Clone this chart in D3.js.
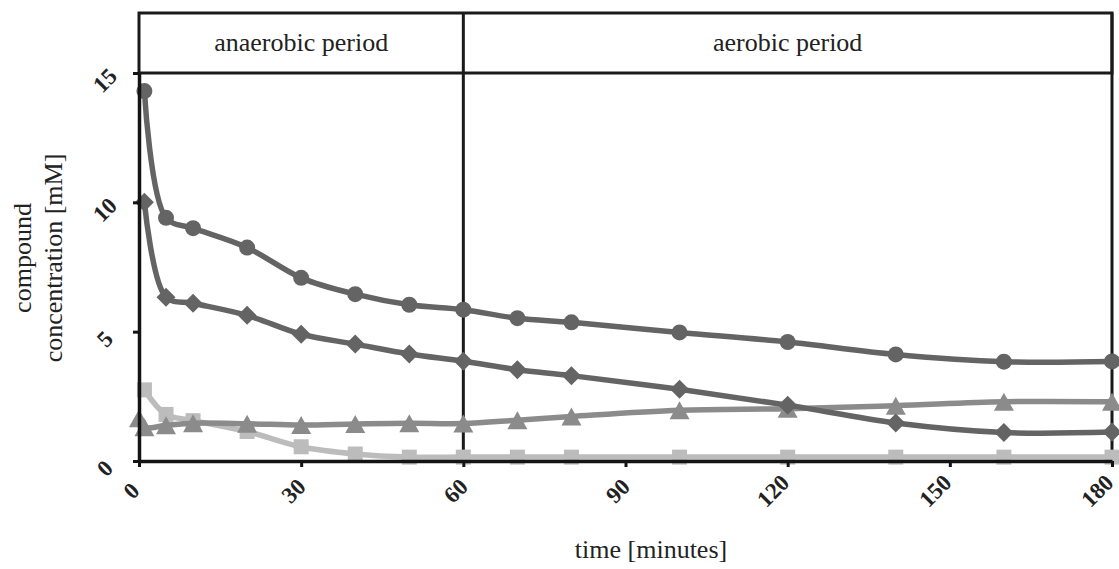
<!DOCTYPE html>
<html>
<head>
<meta charset="utf-8">
<script src="https://cdn.jsdelivr.net/npm/d3@7"></script>
<style>
  body { margin: 0; background: #fff; }
  text { font-family: "Liberation Serif", "Times New Roman", serif; fill: #222; }
</style>
</head>
<body>
<div id="chart"></div>
<script>
var w = 1119, h = 569;

// time points (minutes)
var timeMin = [1, 5, 10, 20, 30, 40, 50, 60, 70, 80, 100, 120, 140, 160, 180];
var timeTri = [0, 1, 5, 10, 20, 30, 40, 50, 60, 70, 80, 100, 120, 140, 160, 180];

// concentrations [mM]
var circleVals  = [14.3, 9.4, 9.0, 8.25, 7.08, 6.45, 6.04, 5.85, 5.52, 5.36, 4.97, 4.6, 4.12, 3.84, 3.85];
var diamondVals = [10.0, 6.33, 6.1, 5.63, 4.9, 4.52, 4.14, 3.86, 3.53, 3.3, 2.77, 2.16, 1.47, 1.1, 1.12];
var triangleVals = [1.65, 1.3, 1.38, 1.46, 1.44, 1.39, 1.43, 1.46, 1.45, 1.58, 1.72, 1.96, 2.02, 2.14, 2.29, 2.29];
var squareVals  = [2.75, 1.8, 1.56, 1.14, 0.55, 0.27, 0.15, 0.15, 0.15, 0.15, 0.15, 0.15, 0.15, 0.15, 0.15];

var xTicks = [0, 30, 60, 90, 120, 150, 180];
var yTicks = [0, 5, 10, 15];
var periods = ["anaerobic period", "aerobic period"];

var plotLeft = 139, plotRight = 1112, plotTop = 73, plotBottom = 461, boxTop = 13;

var svg = d3.select("#chart").append("svg")
  .attr("width", w)
  .attr("height", h);

var xScale = d3.scaleLinear().domain([0, 180]).range([plotLeft, plotRight]);
var yScale = d3.scaleLinear().domain([0, 15]).range([plotBottom, plotTop]);

// header boxes
svg.append("rect")
  .attr("x", plotLeft).attr("y", boxTop)
  .attr("width", plotRight - plotLeft).attr("height", plotTop - boxTop)
  .attr("fill", "none").attr("stroke", "#1a1a1a").attr("stroke-width", 3);

svg.append("line")
  .attr("x1", xScale(60)).attr("x2", xScale(60))
  .attr("y1", boxTop).attr("y2", plotBottom)
  .attr("stroke", "#1a1a1a").attr("stroke-width", 3);

svg.append("line")
  .attr("x1", plotRight).attr("x2", plotRight)
  .attr("y1", boxTop).attr("y2", plotBottom)
  .attr("stroke", "#1a1a1a").attr("stroke-width", 3);

svg.selectAll(".period")
  .data(periods)
  .enter()
  .append("text")
  .attr("class", "period")
  .attr("x", function(d, i) { return i == 0 ? (xScale(0) + xScale(60)) / 2 : (xScale(60) + xScale(180)) / 2; })
  .attr("y", 51)
  .attr("text-anchor", "middle")
  .attr("font-size", "26px")
  .text(function(d) { return d; });

// series
var series = [
  { x: timeMin, y: squareVals, color: "#bcbcbc", shape: "square" },
  { x: timeTri, y: triangleVals, color: "#8b8b8b", shape: "triangle" },
  { x: timeMin, y: diamondVals, color: "#646464", shape: "diamond" },
  { x: timeMin, y: circleVals, color: "#646464", shape: "circle" }
];

function markerPath(shape) {
  if (shape == "circle") return "M-8,0A8,8 0 1,0 8,0A8,8 0 1,0 -8,0Z";
  if (shape == "diamond") return "M0,-9.5L9.5,0L0,9.5L-9.5,0Z";
  if (shape == "triangle") return "M0,-9L10,9L-10,9Z";
  return "M-7.5,-7.5H7.5V7.5H-7.5Z";
}

var line = d3.line()
  .x(function(d) { return xScale(d[0]); })
  .y(function(d) { return yScale(d[1]); })
  .curve(d3.curveCatmullRom.alpha(0.5));

series.forEach(function(s) {
  var pts = s.x.map(function(t, i) { return [t, s.y[i]]; });
  var g = svg.append("g");
  g.append("path")
    .attr("d", line(pts))
    .attr("fill", "none")
    .attr("stroke", s.color)
    .attr("stroke-width", 5.5)
    .attr("stroke-linejoin", "round");
  g.selectAll("path.mark")
    .data(pts)
    .enter()
    .append("path")
    .attr("class", "mark")
    .attr("d", markerPath(s.shape))
    .attr("transform", function(d) { return "translate(" + xScale(d[0]) + "," + yScale(d[1]) + ")"; })
    .attr("fill", s.color);
});

// axes
var xAxis = d3.axisBottom(xScale).tickValues(xTicks).tickSize(6).tickSizeOuter(0);
var yAxis = d3.axisLeft(yScale).tickValues(yTicks).tickSize(6).tickSizeOuter(0);

var gx = svg.append("g")
  .attr("transform", "translate(0," + plotBottom + ")")
  .call(xAxis);

var gy = svg.append("g")
  .attr("transform", "translate(" + plotLeft + ",0)")
  .call(yAxis);

[gx, gy].forEach(function(g) {
  g.select(".domain").attr("stroke", "#141414").attr("stroke-width", 3.5);
  g.selectAll(".tick line").attr("stroke", "#141414").attr("stroke-width", 3);
  g.selectAll(".tick text")
    .attr("x", 0).attr("y", 0).attr("dy", null)
    .attr("text-anchor", "middle")
    .attr("dominant-baseline", "central")
    .attr("font-family", "'Liberation Serif', serif")
    .attr("font-weight", "bold")
    .attr("font-size", "23px")
    .attr("fill", "#222");
});

gx.selectAll(".tick text").attr("transform", function(d) {
  return "translate(" + (d >= 100 ? -15 : -8) + ",30) rotate(-45)";
});
gy.selectAll(".tick text").attr("transform", "translate(-34,7) rotate(-45)");

// axis titles
svg.append("text")
  .attr("x", 651)
  .attr("y", 558)
  .attr("text-anchor", "middle")
  .attr("font-size", "26px")
  .text("time [minutes]");

var yTitle = svg.append("text")
  .attr("transform", "translate(0,258) rotate(-90)")
  .attr("text-anchor", "middle")
  .attr("font-size", "26px");
yTitle.append("tspan").attr("x", 0).attr("y", 31).text("compound");
yTitle.append("tspan").attr("x", 0).attr("y", 62).text("concentration [mM]");
</script>
</body>
</html>
